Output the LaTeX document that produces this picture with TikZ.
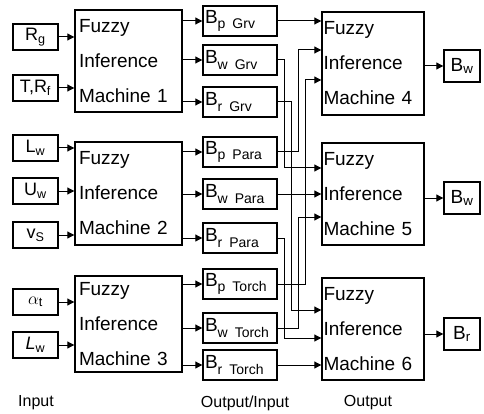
\documentclass[tikz,border=0pt]{standalone}
\usepackage{fontspec}
\setmainfont{Liberation Sans}
\usetikzlibrary{arrows.meta,positioning}

\newcommand{\lowsub}[1]{\raisebox{-0.28em}{\fontsize{14}{14}\selectfont #1}}

\tikzset{
  box/.style={draw,line width=1.4pt,inner sep=0pt},
  inbox/.style={box,minimum width=45pt,minimum height=26pt,font=\fontsize{18}{20}\selectfont},
  fim/.style={box,minimum width=107pt,align=left,text width=99pt,font=\fontsize{19}{35}\selectfont},
  midbox/.style={box,minimum width=74pt,minimum height=30pt,align=left,text width=70pt,font=\fontsize{19}{20}\selectfont},
  outbox/.style={box,minimum width=36pt,minimum height=32pt,font=\fontsize{19}{20}\selectfont},
  caption/.style={font=\fontsize{16}{18}\selectfont},
  flow/.style={-{Triangle[length=7pt,width=7pt]},line width=1pt}
}

\begin{document}
\begin{tikzpicture}[x=1pt,y=-1pt]
\useasboundingbox (0,0) rectangle (484,414);

% inputs
\node[inbox] (rg)  at (35.5,37)  {R\textsubscript{g}};
\node[inbox] (trf) at (35.5,88)  {T,R\textsubscript{f}};
\node[inbox] (lw)  at (35.5,148) {L\textsubscript{w}};
\node[inbox] (uw)  at (35.5,191) {U\textsubscript{w}};
\node[inbox] (vs)  at (35.5,235) {v\textsubscript{S}};
\node[inbox] (alf) at (35.5,302) {$\alpha$\textsubscript{t}};
\node[inbox] (lwt) at (35.5,345) {\textit{L}\textsubscript{w}};

% first stage
\node[fim,minimum height=102pt] (m1) at (128.5,61)    {Fuzzy\\Inference\\Machine 1};
\node[fim,minimum height=103pt] (m2) at (128.5,193.5) {Fuzzy\\Inference\\Machine 2};
\node[fim,minimum height=96pt]  (m3) at (128.5,324)   {Fuzzy\\Inference\\Machine 3};

% output/input
\node[midbox] (bpg) at (240,21)  {B\lowsub{p\enspace Grv}};
\node[midbox] (bwg) at (240,60)  {B\lowsub{w\enspace Grv}};
\node[midbox] (brg) at (240,102) {B\lowsub{r\enspace Grv}};
\node[midbox] (bpp) at (240,152) {B\lowsub{p\enspace Para}};
\node[midbox] (bwp) at (240,194) {B\lowsub{w\enspace Para}};
\node[midbox] (brp) at (240,238) {B\lowsub{r\enspace Para}};
\node[midbox] (bpt) at (240,284) {B\lowsub{p\enspace Torch}};
\node[midbox] (bwt) at (240,328) {B\lowsub{w\enspace Torch}};
\node[midbox] (brt) at (240,365) {B\lowsub{r\enspace Torch}};

% second stage
\node[fim,minimum width=102pt,minimum height=103pt] (m4) at (373,63.5) {Fuzzy\\Inference\\Machine 4};
\node[fim,minimum width=102pt,minimum height=102pt] (m5) at (373,194)  {Fuzzy\\Inference\\Machine 5};
\node[fim,minimum width=102pt,minimum height=102pt] (m6) at (373,329)  {Fuzzy\\Inference\\Machine 6};

% outputs
\node[outbox] (ow4) at (462,66)  {B\textsubscript{w}};
\node[outbox] (ow5) at (462,198) {B\textsubscript{w}};
\node[outbox] (or6) at (462,334) {B\textsubscript{r}};

\node[caption] (cin)  at (36,403)  {Input};
\node[caption] (cmid) at (245,403) {Output/Input};
\node[caption] (cout) at (368,403) {Output};

% lanes of the crossing wires
\coordinate (laneA) at (284,0);
\coordinate (laneB) at (291,0);
\coordinate (laneC) at (298,0);
\coordinate (laneD) at (305,0);

\foreach \i in {rg,trf} \draw[flow] (\i.east) -- (\i.east -| m1.west);
\foreach \i in {lw,uw,vs} \draw[flow] (\i.east) -- (\i.east -| m2.west);
\foreach \i in {alf,lwt} \draw[flow] (\i.east) -- (\i.east -| m3.west);

\foreach \i in {bpg,bwg,brg} \draw[flow] (\i.west -| m1.east) -- (\i.west);
\foreach \i in {bpp,bwp,brp} \draw[flow] (\i.west -| m2.east) -- (\i.west);
\foreach \i in {bpt,bwt,brt} \draw[flow] (\i.west -| m3.east) -- (\i.west);

% into machine 4
\draw[flow] (bpg.east) -- (bpg.east -| m4.west);
\draw[flow] (bpp.east) -- (bpp.east -| laneC) |- ([yshift=13.5pt]m4.west);
\draw[flow] (bpt.east) -- (bpt.east -| laneD) |- ([yshift=-16.5pt]m4.west);
% into machine 5
\draw[flow] (bwg.east) -- (bwg.east -| laneA) |- ([yshift=26pt]m5.west);
\draw[flow] (bwp.east) -- (bwp.east -| m5.west);
\draw[flow] (bwt.east) -- (bwt.east -| laneC) |- ([yshift=-23pt]m5.west);
% into machine 6
\draw[flow] (brg.east) -- (brg.east -| laneB) |- ([yshift=19pt]m6.west);
\draw[flow] (brp.east) -- (brp.east -| laneA) |- ([yshift=-9pt]m6.west);
\draw[flow] (brt.east) -- (brt.east -| m6.west);

\draw[flow] (ow4.west -| m4.east) -- (ow4.west);
\draw[flow] (ow5.west -| m5.east) -- (ow5.west);
\draw[flow] (or6.west -| m6.east) -- (or6.west);
\end{tikzpicture}
\end{document}
